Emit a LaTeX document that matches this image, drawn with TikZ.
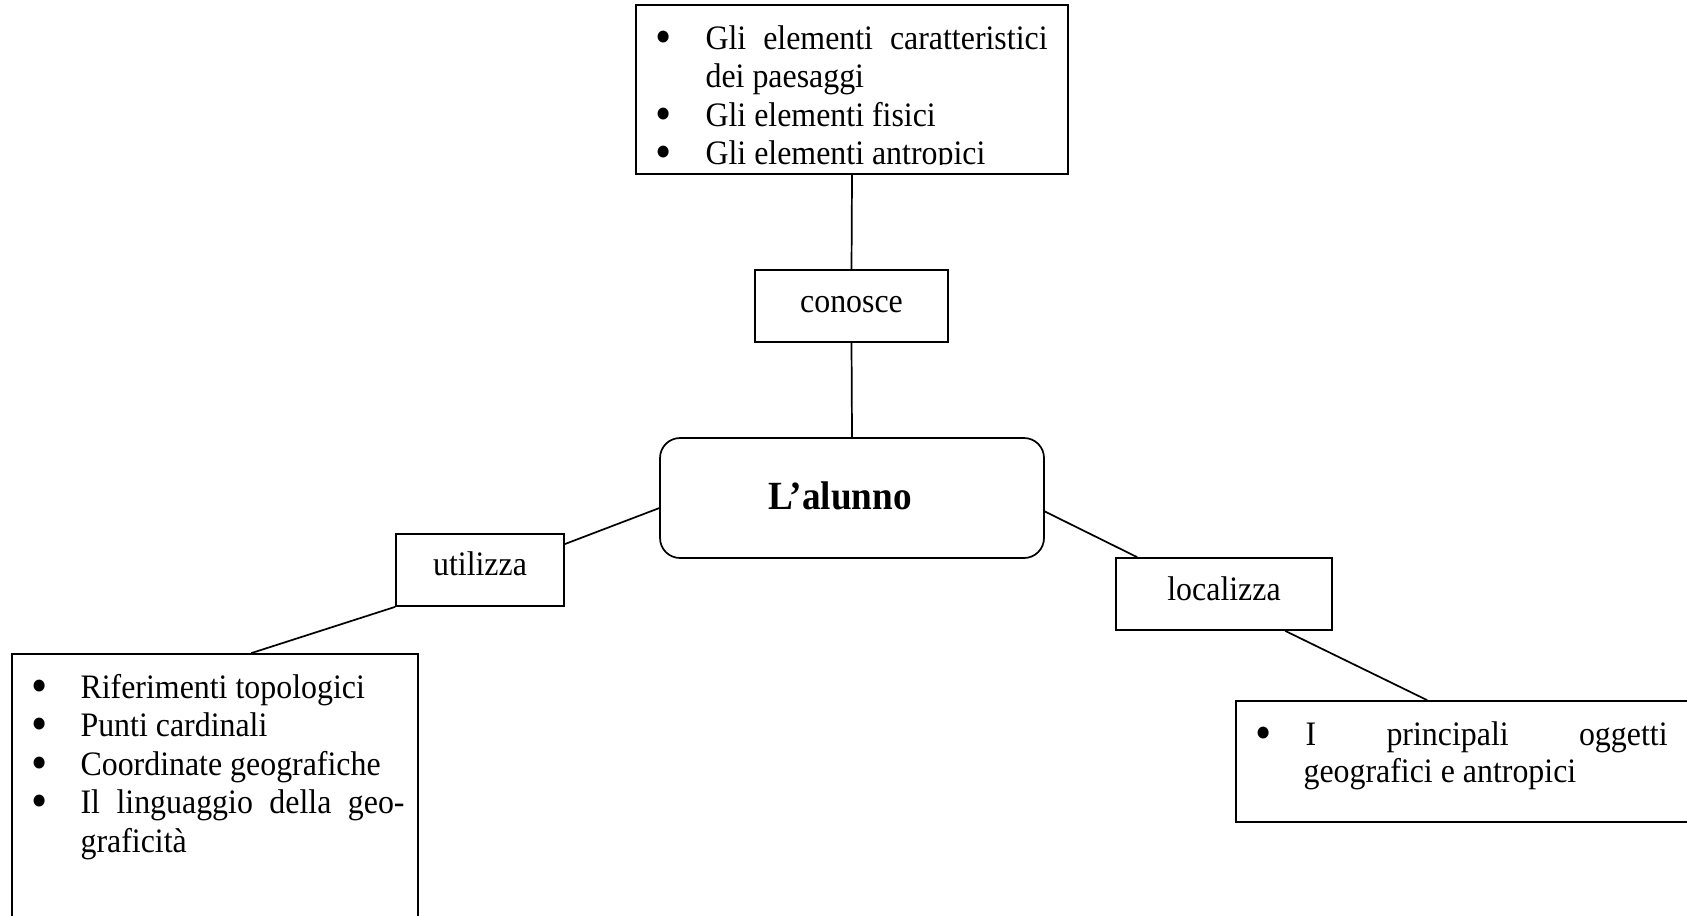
\documentclass[tikz,border=0pt]{standalone}
\usepackage{fontspec}
\setmainfont{Liberation Serif}[FakeStretch=0.93]
\usetikzlibrary{calc}
\newcommand\myfs{\fontsize{12pt}{13.5pt}\selectfont}
\newcommand\mybul{\smash{\raisebox{-1.5pt}{\scalebox{1.45}{•}}}}
\tikzset{
  box/.style={draw, rectangle, inner sep=0pt, line width=0.6pt},
  lbl/.style={anchor=base, inner sep=0pt, font=\myfs},
  txt/.style={anchor=base west, inner sep=0pt, font=\myfs},
  bul/.style={anchor=base, inner sep=0pt, font=\myfs},
  conn/.style={line width=0.6pt},
}
\begin{document}
\begin{tikzpicture}[x=0.35pt, y=-0.35pt]
\useasboundingbox (0,0) rectangle (1687,915);
\clip (0,0) rectangle (1687,915);
% boxes
\node[box, minimum width=151.2pt, minimum height=59.15pt] (top) at (852,89.5) {};
\node[box, minimum width=67.55pt, minimum height=25.2pt] (conosce) at (851.5,306) {};
\node[box, rounded corners=7pt, minimum width=134.4pt, minimum height=42pt] (alunno) at (852,498) {};
\node[box, minimum width=58.8pt, minimum height=25.2pt] (utilizza) at (480,570) {};
\node[box, minimum width=75.6pt, minimum height=25.2pt] (localizza) at (1224,594) {};
\node[box, minimum width=142.1pt, minimum height=103.6pt] (leftbox) at (215,802) {};
\node[box, minimum width=169.4pt, minimum height=42.35pt] (rightbox) at (1478,761.5) {};
% labels
\node[lbl] (tconosce) at (851.5,312) {conosce};
\node[lbl] (tutilizza) at (480,575) {utilizza};
\node[lbl] (tlocalizza) at (1224,600) {localizza};
\node[anchor=base, inner sep=0pt, font=\fontsize{14pt}{16pt}\selectfont\bfseries] (talunno) at (840,509) {L’alunno};
% connectors
\draw[conn] (top.south) -- (conosce.north);
\draw[conn] (conosce.south) -- (alunno.north);
\draw[conn] (alunno.183.6) -- (utilizza.17.8);
\draw[conn] (utilizza.south west) -- ($(leftbox.north west)+(240,0)$);
\draw[conn] (alunno.356.4) -- ($(localizza.north west)+(22,0)$);
\draw[conn] ($(localizza.south west)+(170,0)$) -- ($(rightbox.north west)+(192,0)$);
% top box text
\begin{scope}
\clip (636,0) rectangle (1068,164);
\node[bul] (b1) at (664,49) {\mybul};
\node[txt] (t1) at (705,49) {\makebox[119.7pt][l]{Gli\hfill elementi\hfill caratteristici}};
\node[txt] (t2) at (705,87.5) {dei paesaggi};
\node[bul] (b2) at (664,126) {\mybul};
\node[txt] (t3) at (705,126) {Gli elementi fisici};
\node[bul] (b3) at (664,164.5) {\mybul};
\node[txt] (t4) at (705,164.5) {Gli elementi antropici};
\end{scope}
% left box text
\node[bul] (lb1) at (40,698) {\mybul};
\node[txt] (l1) at (80,698) {Riferimenti topologici};
\node[bul] (lb2) at (40,736.5) {\mybul};
\node[txt] (l2) at (80,736.5) {Punti cardinali};
\node[bul] (lb3) at (40,775) {\mybul};
\node[txt] (l3) at (80,775) {Coordinate geografiche};
\node[bul] (lb4) at (40,813.5) {\mybul};
\node[txt] (l4) at (80,813.5) {\makebox[113.4pt][l]{Il\hfill linguaggio\hfill della\hfill geo-}};
\node[txt] (l5) at (80,852) {graficità};
% right box text
\node[bul] (rb1) at (1264,745) {\mybul};
\node[txt] (r1) at (1305,745) {\makebox[126.7pt][l]{I\hfill principali\hfill oggetti}};
\node[txt] (r2) at (1303,782) {geografici e antropici};
\end{tikzpicture}
\end{document}
